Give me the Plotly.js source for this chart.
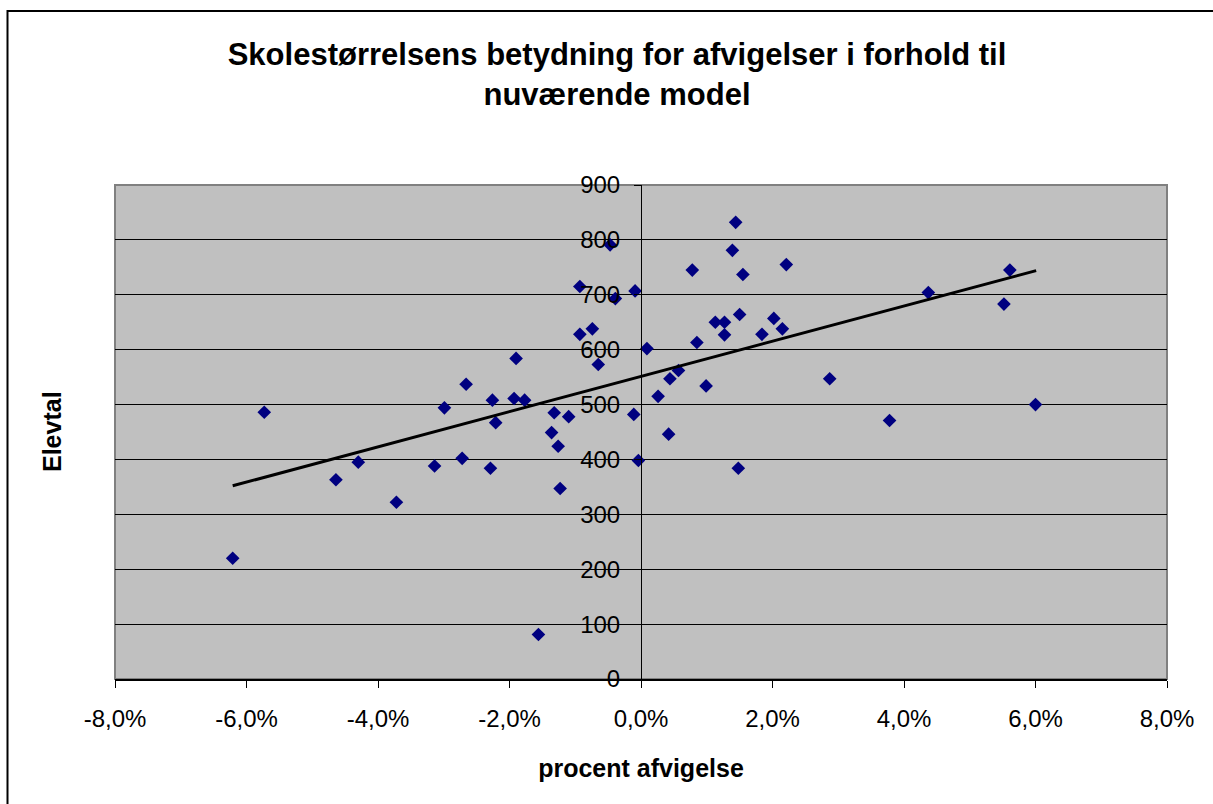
<!DOCTYPE html>
<html>
<head>
<meta charset="utf-8">
<script src="https://cdn.plot.ly/plotly-3.0.1.min.js"></script>
<style>
  html, body { margin: 0; padding: 0; background: #ffffff; }
  #chart { width: 1213px; height: 804px; }
</style>
</head>
<body>
<div id="chart"></div>
<script>
// Data (x = procent afvigelse as fraction, y = Elevtal)
const afvigelse = [-0.0621, -0.0573, -0.0464, -0.0430, -0.0372, -0.0314, -0.0299, -0.0272, -0.0266, -0.0229,
                   -0.0226, -0.0221, -0.0193, -0.0190, -0.0177, -0.0156, -0.0136, -0.0132, -0.0126, -0.0123,
                   -0.0110, -0.0093, -0.0093, -0.0074, -0.0065, -0.0047, -0.0039, -0.0011, -0.0009, -0.0004,
                   0.0009, 0.0026, 0.0042, 0.0044, 0.0057, 0.0078, 0.0085, 0.0099, 0.0113, 0.0127,
                   0.0127, 0.0139, 0.0144, 0.0148, 0.0150, 0.0155, 0.0184, 0.0202, 0.0215, 0.0221,
                   0.0287, 0.0378, 0.0437, 0.0552, 0.0561, 0.0600];
const elevtal = [220, 486, 363, 395, 322, 388, 494, 402, 537, 384,
                 508, 467, 511, 584, 508, 81, 449, 485, 424, 347,
                 478, 715, 628, 638, 573, 791, 693, 482, 707, 398,
                 602, 515, 446, 547, 562, 745, 613, 534, 650, 650,
                 627, 781, 832, 384, 664, 737, 628, 657, 638, 755,
                 547, 471, 704, 683, 745, 500];

// Linear trendline endpoints
const trendX = [-0.0621, 0.0601];
const trendY = [352, 744];

// Tick labels
const xTickVals = [-0.08, -0.06, -0.04, -0.02, 0, 0.02, 0.04, 0.06, 0.08];
const xTickText = ['-8,0%', '-6,0%', '-4,0%', '-2,0%', '0,0%', '2,0%', '4,0%', '6,0%', '8,0%'];
const yTickVals = [0, 100, 200, 300, 400, 500, 600, 700, 800, 900];

const chartTitle = 'Skolestørrelsens betydning for afvigelser i forhold til<br>nuværende model';
const xTitle = 'procent afvigelse';
const yTitle = 'Elevtal';

const FONT = 'Liberation Sans, Arial, sans-serif';

const traces = [
  {
    type: 'scatter', mode: 'markers',
    x: afvigelse, y: elevtal,
    marker: { symbol: 'diamond', color: '#000080', size: 10.5, line: { width: 0 } },
    hoverinfo: 'skip', showlegend: false
  },
  {
    type: 'scatter', mode: 'lines',
    x: trendX, y: trendY,
    line: { color: '#000000', width: 3 },
    hoverinfo: 'skip', showlegend: false
  }
];

const W = 1213, H = 804, L = 115, R = 46, T = 185, B = 125;
const pw = W - L - R, ph = H - T - B;
const px = v => (v - L) / pw;
const py = v => (H - B - v) / ph;

const layout = {
  width: W, height: H,
  margin: { l: L, r: R, t: T, b: B, pad: 0 },
  paper_bgcolor: '#ffffff',
  plot_bgcolor: '#C0C0C0',
  font: { family: FONT, color: '#000000', size: 24 },
  showlegend: false,
  hovermode: false,
  title: {
    text: chartTitle,
    font: { family: FONT, size: 31, weight: 'bold', color: '#000000' },
    xref: 'container', x: 617 / W, xanchor: 'center',
    yref: 'container', y: 1 - 65 / H, yanchor: 'top'
  },
  xaxis: {
    range: [-0.08, 0.08],
    tickmode: 'array', tickvals: xTickVals, ticktext: xTickText,
    ticks: 'outside', ticklen: 7, tickwidth: 1, tickcolor: '#000000',
    showline: true, linecolor: '#000000', linewidth: 1.5,
    showgrid: false, zeroline: false,
    tickfont: { family: FONT, size: 24, color: '#000000' },
    ticklabelstandoff: 11,
    title: { text: xTitle, font: { family: FONT, size: 25, weight: 'bold', color: '#000000' }, standoff: 28 },
    fixedrange: true
  },
  yaxis: {
    range: [0, 900],
    anchor: 'free', position: 0.5, side: 'left',
    tickmode: 'array', tickvals: yTickVals,
    ticks: 'outside', ticklen: 7, tickwidth: 1, tickcolor: '#000000',
    showline: true, linecolor: '#000000', linewidth: 1,
    showgrid: true, gridcolor: '#000000', gridwidth: 1,
    zeroline: false,
    tickfont: { family: FONT, size: 24, color: '#000000' },
    ticklabelstandoff: 9,
    fixedrange: true
  },
  annotations: [
    {
      text: yTitle, textangle: -90,
      xref: 'paper', yref: 'paper', x: px(52), y: 0.5,
      xanchor: 'center', yanchor: 'middle', showarrow: false,
      font: { family: FONT, size: 25, weight: 'bold', color: '#000000' }
    }
  ],
  shapes: [
    {
      type: 'rect', xref: 'paper', yref: 'paper', x0: 0, x1: 1, y0: 0, y1: 1,
      line: { color: '#808080', width: 2 }, fillcolor: 'rgba(0,0,0,0)', layer: 'below'
    },
    {
      type: 'rect', xref: 'paper', yref: 'paper',
      x0: px(7.5), x1: px(1230), y0: py(815), y1: py(11),
      line: { color: '#000000', width: 2 }, fillcolor: 'rgba(0,0,0,0)', layer: 'above'
    }
  ]
};

Plotly.newPlot('chart', traces, layout, { displayModeBar: false, staticPlot: true });
</script>
</body>
</html>
